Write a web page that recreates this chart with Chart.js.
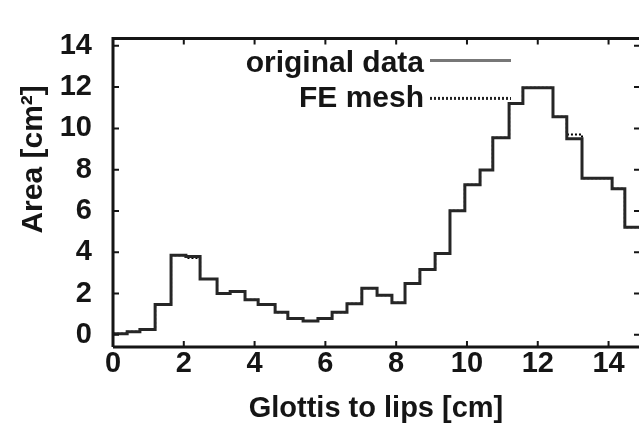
<!DOCTYPE html>
<html>
<head>
<meta charset="utf-8">
<script src="https://cdn.jsdelivr.net/npm/chart.js@4.4.1/dist/chart.umd.min.js"></script>
<style>
    html, body { margin: 0; padding: 0; background: #fff; overflow: hidden; }
    #wrap { width: 639px; height: 426px; }
</style>
</head>
<body>
<div id="wrap"><canvas id="areaChart" width="639" height="426"></canvas></div>
<script>
// ===== DATA =====
// section edges along the tract (cm)
const xEdges = [0, 0.40, 0.76, 1.19, 1.64, 2.06, 2.46, 2.94, 3.31, 3.73,
    4.10, 4.58, 4.94, 5.37, 5.79, 6.19, 6.61, 7.03, 7.46, 7.88,
    8.25, 8.67, 9.10, 9.52, 9.94, 10.37, 10.73, 11.19, 11.58, 12.43,
    12.82, 13.25, 14.10, 14.46, 14.86];

// area of each section (cm^2)
const originalArea = [0.05, 0.15, 0.26, 1.47, 3.86, 3.79, 2.71, 2.00, 2.10, 1.70,
    1.47, 1.09, 0.79, 0.67, 0.79, 1.09, 1.51, 2.26, 1.92, 1.55,
    2.49, 3.16, 3.94, 6.01, 7.27, 7.99, 9.55, 11.21, 11.97, 10.56,
    9.50, 7.58, 7.08, 5.21];

const feMeshArea = [0.05, 0.15, 0.26, 1.47, 3.86, 3.72, 2.71, 2.00, 2.10, 1.70,
    1.47, 1.09, 0.79, 0.67, 0.79, 1.09, 1.51, 2.26, 1.92, 1.55,
    2.49, 3.16, 3.94, 6.01, 7.27, 7.99, 9.55, 11.21, 11.97, 10.56,
    9.70, 7.58, 7.08, 5.21];

const xTickValues = [0, 2, 4, 6, 8, 10, 12, 14];
const yTickValues = [0, 2, 4, 6, 8, 10, 12, 14];

const FONT = "'Liberation Sans', Arial, Helvetica, sans-serif";
const INK = '#151515';

// one point per section start plus the closing edge, drawn stepped
function toSteps(values) {
    return xEdges.map((x, i) => ({ x: x, y: values[Math.min(i, values.length - 1)] }));
}

// ===== FRAME + INNER TICKS (gnuplot style) =====
const framePlugin = {
    id: 'frame',
    afterDatasetsDraw(chart) {
        const { ctx, chartArea: a, scales } = chart;
        ctx.save();
        ctx.strokeStyle = INK;
        ctx.lineWidth = 3;
        ctx.beginPath();
        ctx.moveTo(a.left, a.bottom);
        ctx.lineTo(a.left, a.top);
        ctx.lineTo(a.right + 2, a.top);
        ctx.moveTo(a.left, a.bottom);
        ctx.lineTo(a.right + 2, a.bottom);
        ctx.stroke();

        ctx.lineWidth = 2;
        ctx.beginPath();
        scales.y.ticks.forEach(t => {
            const py = scales.y.getPixelForValue(t.value);
            ctx.moveTo(a.left, py); ctx.lineTo(a.left + 6, py);
            ctx.moveTo(a.right, py); ctx.lineTo(a.right - 5, py);
        });
        scales.x.ticks.forEach(t => {
            const px = scales.x.getPixelForValue(t.value);
            ctx.moveTo(px, a.bottom); ctx.lineTo(px, a.bottom - 6);
            ctx.moveTo(px, a.top); ctx.lineTo(px, a.top + 6);
        });
        ctx.stroke();
        ctx.restore();
    }
};

// ===== LEGEND: text then sample line, right of it =====
const keyPlugin = {
    id: 'key',
    afterDraw(chart) {
        const { ctx, chartArea: a } = chart;
        const textRight = a.left + 311;
        const sampleStart = a.left + 317;
        const sampleEnd = a.left + 398;
        ctx.save();
        ctx.font = 'bold 30px ' + FONT;
        ctx.fillStyle = INK;
        ctx.textAlign = 'right';
        ctx.textBaseline = 'alphabetic';
        chart.data.datasets.forEach((ds, i) => {
            const base = a.top + 34 + i * 35;
            ctx.fillText(ds.label, textRight, base);
            ctx.strokeStyle = ds.keyColor;
            ctx.lineWidth = ds.keyWidth;
            ctx.setLineDash(ds.borderDash || []);
            ctx.beginPath();
            ctx.moveTo(sampleStart, base - 12 + i * 3);
            ctx.lineTo(sampleEnd, base - 12 + i * 3);
            ctx.stroke();
        });
        ctx.restore();
    }
};

// ===== CHART =====
const areaChart = new Chart(document.getElementById('areaChart'), {
    type: 'line',
    data: {
        datasets: [
            {
                label: 'original data',
                data: toSteps(originalArea),
                stepped: 'before',
                borderColor: '#262626',
                borderWidth: 3,
                pointRadius: 0,
                fill: false,
                keyColor: '#777',
                keyWidth: 3
            },
            {
                label: 'FE mesh',
                data: toSteps(feMeshArea),
                stepped: 'before',
                borderColor: '#000',
                borderWidth: 2,
                borderDash: [2, 2],
                pointRadius: 0,
                fill: false,
                keyColor: '#222',
                keyWidth: 3
            }
        ]
    },
    options: {
        responsive: false,
        animation: false,
        layout: { padding: { top: 18, right: 0, left: 0, bottom: 0 } },
        plugins: {
            legend: { display: false },
            tooltip: { enabled: false }
        },
        scales: {
            x: {
                type: 'linear',
                min: 0,
                max: 14.86,
                afterBuildTicks: (axis) => { axis.ticks = xTickValues.map(v => ({ value: v })); },
                afterFit: (axis) => { axis.height = 79; },
                grid: { display: false, drawTicks: false },
                border: { display: false },
                ticks: {
                    color: INK,
                    font: { family: FONT, size: 29, weight: 'bold' },
                    padding: 0,
                    maxRotation: 0,
                    autoSkip: false
                },
                title: {
                    display: true,
                    text: 'Glottis to lips [cm]',
                    color: INK,
                    font: { family: FONT, size: 29, weight: 'bold' },
                    padding: { top: 0, bottom: 0 }
                }
            },
            y: {
                type: 'linear',
                min: -0.59,
                max: 14.36,
                afterBuildTicks: (axis) => { axis.ticks = yTickValues.map(v => ({ value: v })); },
                afterFit: (axis) => { axis.width = 113; },
                grid: { display: false, drawTicks: false },
                border: { display: false },
                ticks: {
                    color: INK,
                    font: { family: FONT, size: 29, weight: 'bold' },
                    padding: 21,
                    autoSkip: false
                },
                title: {
                    display: true,
                    text: '        Area [cm\u00b2]',
                    color: INK,
                    font: { family: FONT, size: 30, weight: 'bold' },
                    padding: { top: 16, bottom: 0 }
                }
            }
        }
    },
    plugins: [framePlugin, keyPlugin]
});
</script>
</body>
</html>
